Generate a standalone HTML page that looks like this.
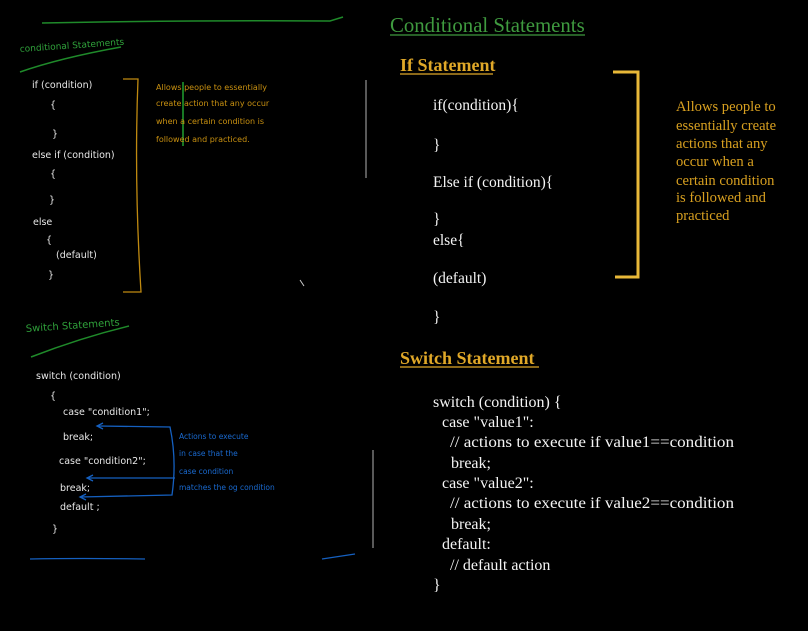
<!DOCTYPE html>
<html><head><meta charset="utf-8"><style>
html,body{margin:0;padding:0;background:#000;}
svg{display:block;}
</style></head><body>
<svg width="808" height="631" xmlns="http://www.w3.org/2000/svg">
<rect width="808" height="631" fill="#000"/>
<path d="M42 23 Q200 20 330 21 L343 17" stroke="#1f8a2a" stroke-width="1.5" fill="none"/>
<text x="20" y="52" font-family="DejaVu Sans, sans-serif" font-size="9" fill="#2fa03a" transform="rotate(-4 20 52)">conditional Statements</text>
<path d="M20 72 Q60 58 121 47" stroke="#1f8a2a" stroke-width="1.5" fill="none"/>
<g font-family="DejaVu Sans, sans-serif" font-size="9.5" fill="#e8e8e8">
<text x="32" y="88">if (condition)</text>
<text x="50" y="108">{</text>
<text x="52" y="137">}</text>
<text x="32" y="158">else if (condition)</text>
<text x="50" y="177">{</text>
<text x="49" y="203">}</text>
<text x="33" y="225">else</text>
<text x="46" y="243">{</text>
<text x="56" y="258">(default)</text>
<text x="48" y="278">}</text>
</g>
<path d="M123 79 L138 79 Q134 180 141 292 L123 292" stroke="#c08a10" stroke-width="1.3" fill="none"/>
<line x1="183" y1="82" x2="183" y2="146" stroke="#20a030" stroke-width="1.5"/>
<g font-family="DejaVu Sans, sans-serif" font-size="8" fill="#c89010">
<text x="156" y="90">Allows people to essentially</text>
<text x="156" y="106">create action that any occur</text>
<text x="156" y="124">when a certain condition is</text>
<text x="156" y="142">followed and practiced.</text>
</g>
<line x1="366" y1="80" x2="366" y2="178" stroke="#777" stroke-width="1.5"/>
<path d="M300 280 L304 286" stroke="#ccc" stroke-width="1"/>
<text x="26" y="332" font-family="DejaVu Sans, sans-serif" font-size="10" fill="#2fa03a" transform="rotate(-4 26 332)">Switch Statements</text>
<path d="M31 357 Q80 338 129 326" stroke="#1f8a2a" stroke-width="1.5" fill="none"/>
<g font-family="DejaVu Sans, sans-serif" font-size="9.5" fill="#e8e8e8">
<text x="36" y="379">switch (condition)</text>
<text x="50" y="399">{</text>
<text x="63" y="415">case "condition1";</text>
<text x="63" y="440">break;</text>
<text x="59" y="464">case "condition2";</text>
<text x="60" y="491">break;</text>
<text x="60" y="510">default ;</text>
<text x="52" y="532">}</text>
</g>
<g stroke="#1560c0" stroke-width="1.3" fill="none">
<path d="M98 426 L170 427 Q177 460 172 495 L80 497"/>
<path d="M88 478 L175 478"/>
<path d="M103 423 L97 426 L103 429"/>
<path d="M93 475 L87 478 L93 481"/>
<path d="M86 494 L80 497 L86 500"/>
<path d="M30 559 Q80 558 145 559"/>
<path d="M322 559 L355 554"/>
</g>
<g font-family="DejaVu Sans, sans-serif" font-size="7.5" fill="#1a6ad0">
<text x="179" y="439">Actions to execute</text>
<text x="179" y="456">in case that the</text>
<text x="179" y="474">case condition</text>
<text x="179" y="490">matches the og condition</text>
</g>
<line x1="373" y1="450" x2="373" y2="548" stroke="#777" stroke-width="1.5"/>
<text x="390" y="32" font-family="Liberation Serif, serif" font-size="20.8" fill="#3f9a3f">Conditional Statements</text>
<line x1="390" y1="35" x2="585" y2="35" stroke="#3f9a3f" stroke-width="1.3"/>
<text x="400" y="71" font-family="Liberation Serif, serif" font-size="18" font-weight="bold" fill="#e0a828">If Statement</text>
<line x1="400" y1="74" x2="493" y2="74" stroke="#e0a828" stroke-width="1.3"/>
<g font-family="Liberation Serif, serif" font-size="15.5" fill="#f4f4f4">
<text x="433" y="110">if(condition){</text>
<text x="433" y="150">}</text>
<text x="433" y="187">Else if (condition){</text>
<text x="433" y="224">}</text>
<text x="433" y="245">else{</text>
<text x="433" y="283">(default)</text>
<text x="433" y="322">}</text>
</g>
<path d="M613 72 L638 72 L638 277 L615 277" stroke="#e8b838" stroke-width="3" fill="none"/>
<g font-family="Liberation Serif, serif" font-size="14.6" fill="#d8a020">
<text x="676" y="111">Allows people to</text>
<text x="676" y="130">essentially create</text>
<text x="676" y="148">actions that any</text>
<text x="676" y="166">occur when a</text>
<text x="676" y="185">certain condition</text>
<text x="676" y="202">is followed and</text>
<text x="676" y="220">practiced</text>
</g>
<text x="400" y="364" font-family="Liberation Serif, serif" font-size="18" font-weight="bold" fill="#e0a828">Switch Statement</text>
<line x1="400" y1="367" x2="539" y2="367" stroke="#e0a828" stroke-width="1.3"/>
<g font-family="Liberation Serif, serif" font-size="16" fill="#f4f4f4">
<text x="433" y="407">switch (condition) {</text>
<text x="442" y="427">case "value1":</text>
<text x="450" y="447" textLength="284" lengthAdjust="spacingAndGlyphs">// actions to execute if value1==condition</text>
<text x="451" y="468">break;</text>
<text x="442" y="488">case "value2":</text>
<text x="450" y="508" textLength="284" lengthAdjust="spacingAndGlyphs">// actions to execute if value2==condition</text>
<text x="451" y="529">break;</text>
<text x="442" y="549">default:</text>
<text x="450" y="570">// default action</text>
<text x="433" y="590">}</text>
</g>
</svg>
</body></html>
